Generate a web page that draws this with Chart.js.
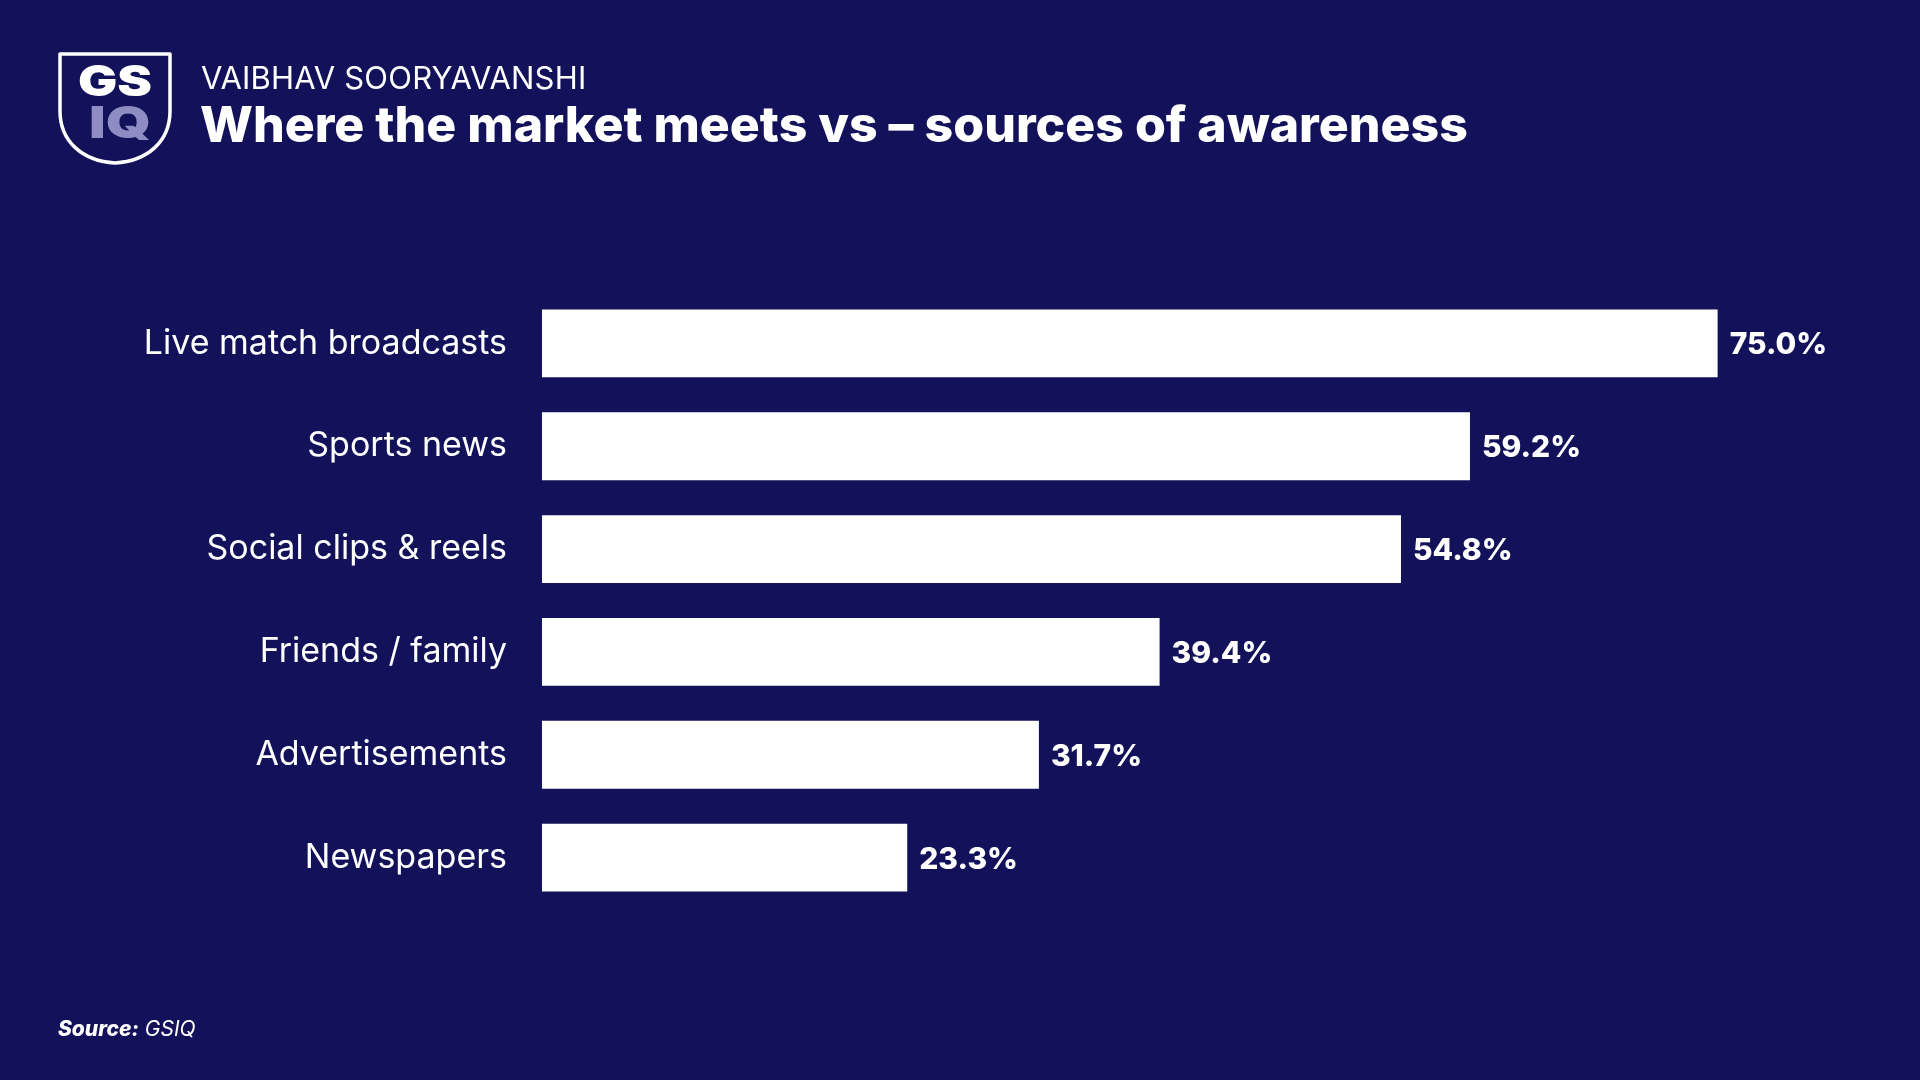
<!DOCTYPE html>
<html>
<head>
<meta charset="utf-8">
<script src="https://cdn.jsdelivr.net/npm/chart.js@4.4.0/dist/chart.umd.min.js"></script>
<style>
  html, body { margin: 0; padding: 0; background: #12115a; }
  body { width: 1920px; height: 1080px; position: relative; overflow: hidden; font-family: Inter, "Noto Sans", sans-serif; color: #fff; }
  #chart { position: absolute; left: 0; top: 0; }
  .logo { position: absolute; left: 57px; top: 51px; }
  .kicker { position: absolute; left: 201px; top: 59px; font-size: 31px; font-weight: 400; letter-spacing: 0.2px; }
  .title { position: absolute; left: 200px; top: 94px; font-size: 50px; font-weight: 800; letter-spacing: 0px; }
  .source { position: absolute; left: 58px; top: 1016px; font-size: 21px; font-style: italic; }
  .source b { font-weight: 800; }
</style>
</head>
<body>
<canvas id="chart" width="1920" height="1080"></canvas>

<svg class="logo" width="118" height="116" viewBox="0 0 118 116">
  <path d="M3 3 H113 V60 C113 91 90 110 58 112 C26 110 3 91 3 60 Z" fill="none" stroke="#fff" stroke-width="3.5" stroke-linejoin="round"/>
  <text x="21" y="45" font-family="Inter, sans-serif" font-weight="900" font-size="42" fill="#fff" textLength="74" lengthAdjust="spacingAndGlyphs">GS</text>
  <text x="32" y="87" font-family="Inter, sans-serif" font-weight="900" font-size="44" fill="#8e8cc2" textLength="62" lengthAdjust="spacingAndGlyphs">IQ</text>
</svg>

<div class="kicker">VAIBHAV SOORYAVANSHI</div>
<div class="title">Where the market meets vs – sources of awareness</div>
<div class="source"><b>Source:</b> GSIQ</div>

<script>
// awareness sources, share of respondents (%)
const categories = [
  "Live match broadcasts",
  "Sports news",
  "Social clips & reels",
  "Friends / family",
  "Advertisements",
  "Newspapers"
];
const awareness = [75.0, 59.2, 54.8, 39.4, 31.7, 23.3];

const valueLabels = {
  id: "valueLabels",
  afterDatasetsDraw(chart) {
    const ctx = chart.ctx;
    const meta = chart.getDatasetMeta(0);
    ctx.save();
    ctx.fillStyle = "#ffffff";
    ctx.font = "800 30px Inter, sans-serif";
    ctx.textAlign = "left";
    ctx.textBaseline = "middle";
    meta.data.forEach((bar, i) => {
      ctx.fillText(awareness[i].toFixed(1) + "%", bar.x + 12, bar.y + 2);
    });
    ctx.restore();
  }
};

new Chart(document.getElementById("chart"), {
  type: "bar",
  data: {
    labels: categories,
    datasets: [{
      data: awareness,
      backgroundColor: "#ffffff",
      borderWidth: 0,
      categoryPercentage: 0.66,
      barPercentage: 1.0
    }]
  },
  options: {
    indexAxis: "y",
    responsive: false,
    animation: false,
    devicePixelRatio: 1,
    layout: { padding: { left: 0, right: 124, top: 292, bottom: 171 } },
    plugins: { legend: { display: false }, tooltip: { enabled: false } },
    scales: {
      x: { display: false, min: 0, max: 80 },
      y: {
        afterFit(scale) { scale.width = 542; },
        grid: { display: false, drawTicks: false },
        border: { display: false },
        ticks: {
          color: "#ffffff",
          padding: 35,
          font: { family: "Inter, sans-serif", size: 34, weight: 400 }
        }
      }
    }
  },
  plugins: [valueLabels]
});
</script>
</body>
</html>
